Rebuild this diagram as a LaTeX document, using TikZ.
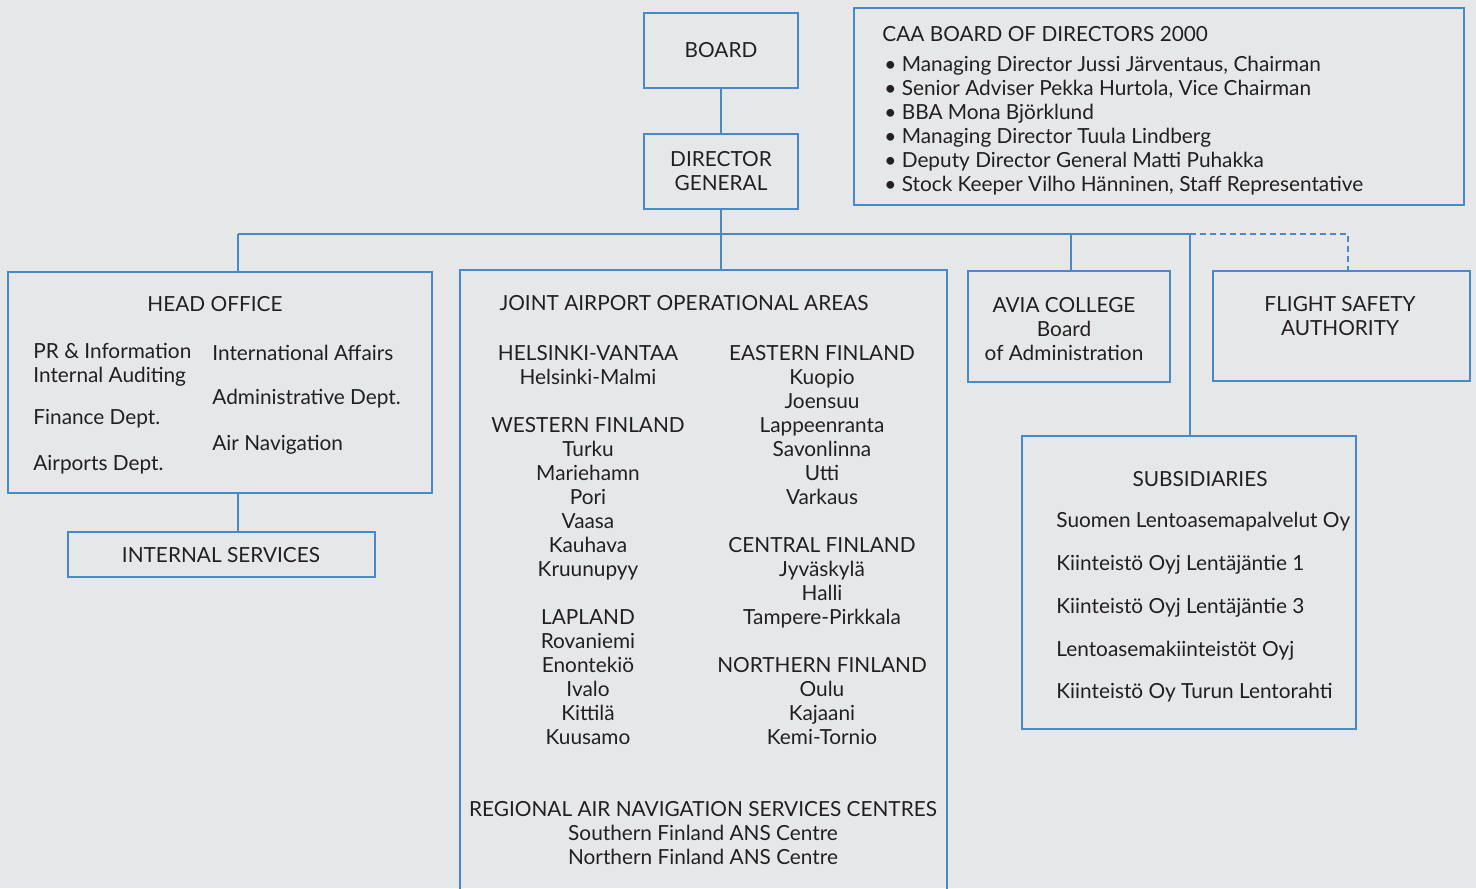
\documentclass[tikz,border=0pt]{standalone}
\usepackage{fontspec}
\setmainfont{Lato}
\definecolor{bgc}{HTML}{E6E7E9}
\definecolor{bluec}{HTML}{4A89C7}
\definecolor{txtc}{HTML}{231F20}
\begin{document}
\begin{tikzpicture}[x=0.5pt,y=-0.5pt,
  box/.style={draw=bluec,line width=1.3pt,inner sep=0pt},
  conn/.style={draw=bluec,line width=1pt},
  dconn/.style={draw=bluec,line width=1pt,dash pattern=on 3pt off 2pt},
  txt/.style={text=txtc,font=\fontsize{10.4}{12}\selectfont,inner sep=0pt,align=center},
  ltxt/.style={txt,align=left,anchor=west}]
\useasboundingbox[fill=bgc] (0,0) rectangle (1476,888);
% boxes
\node[box,minimum width=77pt,minimum height=37.5pt,txt] (board) at (721,50.5) {BOARD};
\node[box,minimum width=77pt,minimum height=37.5pt,txt] (dg) at (721,171.5) {DIRECTOR\\GENERAL};
\node[box,minimum width=305pt,minimum height=98.5pt] (caa) at (1159,106.5) {};
\node[box,minimum width=212pt,minimum height=110.5pt] (head) at (220,382.5) {};
\node[box,minimum width=153.5pt,minimum height=22.5pt] (intsvc) at (221.5,554.5) {};
\node[box,minimum width=101pt,minimum height=55.5pt] (avia) at (1069,326.5) {};
\node[box,minimum width=128.5pt,minimum height=55pt] (fsa) at (1341.5,326) {};
\node[box,minimum width=167pt,minimum height=146.5pt] (subs) at (1189,582.5) {};
\draw[box] (460,890) -- (460,270) -- (947,270) -- (947,890);
\coordinate (jtop) at (721,270);
\coordinate (busL) at (238,234);
\coordinate (busR) at (1190,234);
\coordinate (fsaC) at (1348,234);
% connectors
\draw[conn] (board.south -| jtop) -- (dg.north -| jtop);
\draw[conn] (dg.south -| jtop) -- (jtop);
\draw[conn] (busL) -- (busR);
\draw[conn] (busL) -- (busL |- head.north);
\draw[conn] (busL |- head.south) -- (busL |- intsvc.north);
\draw[conn] (busL -| 1071,0) -- (avia.north -| 1071,0);
\draw[conn] (busR) -- (busR |- subs.north);
\draw[dconn] (busR) -- (fsaC) -- (fsaC |- fsa.north);
% CAA board text
\node[ltxt] (caat) at (882,34) {CAA BOARD OF DIRECTORS 2000};
\node[ltxt] (caab) at (884,126) {\textbullet\ Managing Director Jussi Järventaus, Chairman\\
\textbullet\ Senior Adviser Pekka Hurtola, Vice Chairman\\
\textbullet\ BBA Mona Björklund\\
\textbullet\ Managing Director Tuula Lindberg\\
\textbullet\ Deputy Director General Matti Puhakka\\
\textbullet\ Stock Keeper Vilho Hänninen, Staff Representative};
% head office
\node[txt] (hot) at (215,304) {HEAD OFFICE};
\node[ltxt] (ho1) at (33,365) {PR \& Information\\Internal Auditing};
\node[ltxt] (ho2) at (33,419) {Finance Dept.};
\node[ltxt] (ho3) at (33,465) {Airports Dept.};
\node[ltxt] (ho4) at (212,353) {International Affairs};
\node[ltxt] (ho5) at (212,399) {Administrative Dept.};
\node[ltxt] (ho6) at (212,445) {Air Navigation};
\node[txt] (ist) at (221,555) {INTERNAL SERVICES};
% joint
\node[txt] (jt) at (684,303) {JOINT AIRPORT OPERATIONAL AREAS};
\node[txt] (jl) at (588,545) {HELSINKI-VANTAA\\Helsinki-Malmi\\[12pt]
WESTERN FINLAND\\Turku\\Mariehamn\\Pori\\Vaasa\\Kauhava\\Kruunupyy\\[12pt]
LAPLAND\\Rovaniemi\\Enontekiö\\Ivalo\\Kittilä\\Kuusamo};
\node[txt] (jr) at (822,545) {EASTERN FINLAND\\Kuopio\\Joensuu\\Lappeenranta\\Savonlinna\\Utti\\Varkaus\\[12pt]
CENTRAL FINLAND\\Jyväskylä\\Halli\\Tampere-Pirkkala\\[12pt]
NORTHERN FINLAND\\Oulu\\Kajaani\\Kemi-Tornio};
\node[txt] (jn) at (703,833) {REGIONAL AIR NAVIGATION SERVICES CENTRES\\Southern Finland ANS Centre\\Northern Finland ANS Centre};
% avia, fsa
\node[txt] (at) at (1064,329) {AVIA COLLEGE\\Board\\of Administration};
\node[txt] (ft) at (1340,316) {FLIGHT SAFETY\\AUTHORITY};
% subsidiaries
\node[txt] (st) at (1200,479) {SUBSIDIARIES};
\node[ltxt] (s1) at (1056,522) {Suomen Lentoasemapalvelut Oy};
\node[ltxt] (s2) at (1056,565) {Kiinteistö Oyj Lentäjäntie 1};
\node[ltxt] (s3) at (1056,608) {Kiinteistö Oyj Lentäjäntie 3};
\node[ltxt] (s4) at (1056,651) {Lentoasemakiinteistöt Oyj};
\node[ltxt] (s5) at (1056,693) {Kiinteistö Oy Turun Lentorahti};
\end{tikzpicture}
\end{document}
